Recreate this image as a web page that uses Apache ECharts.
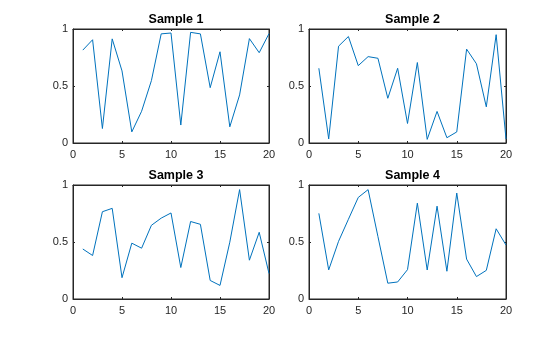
<!DOCTYPE html>
<html>
<head>
<meta charset="utf-8">
<script src="https://cdn.jsdelivr.net/npm/echarts@6/dist/echarts.min.js"></script>
<style>
  html, body { margin: 0; padding: 0; background: #fff; }
  #chart { width: 560px; height: 337px; }
</style>
</head>
<body>
<div id="chart"></div>
<script>
// Four random samples of 20 points each
const xValues = [1,2,3,4,5,6,7,8,9,10,11,12,13,14,15,16,17,18,19,20];
const sample1 = [0.8147,0.9058,0.1270,0.9134,0.6324,0.0975,0.2785,0.5469,0.9575,0.9649,0.1576,0.9706,0.9572,0.4854,0.8003,0.1419,0.4218,0.9157,0.7922,0.9595];
const sample2 = [0.6557,0.0357,0.8491,0.9340,0.6787,0.7577,0.7431,0.3922,0.6555,0.1712,0.7060,0.0318,0.2769,0.0462,0.0971,0.8235,0.6948,0.3171,0.9502,0.0344];
const sample3 = [0.4387,0.3816,0.7655,0.7952,0.1869,0.4898,0.4456,0.6463,0.7094,0.7547,0.2760,0.6797,0.6551,0.1626,0.1190,0.4984,0.9597,0.3404,0.5853,0.2238];
const sample4 = [0.7513,0.2551,0.5060,0.6991,0.8909,0.9593,0.5472,0.1386,0.1493,0.2575,0.8407,0.2543,0.8143,0.2435,0.9293,0.3500,0.1966,0.2511,0.6160,0.4733];
const titles = ['Sample 1', 'Sample 2', 'Sample 3', 'Sample 4'];
const xTicks = [0, 5, 10, 15, 20];
const yTicks = [0, 0.5, 1];

const samples = [sample1, sample2, sample3, sample4];
const axisColor = '#262626';
const lineColor = '#0072BD';
const fontFamily = '"Liberation Sans", Arial, Helvetica, sans-serif';

// Panel boxes (left, top, width, height) in pixels
const panels = [
  { left: 73,  top: 29,  width: 196, height: 114 },
  { left: 309, top: 29,  width: 197, height: 114 },
  { left: 73,  top: 185, width: 196, height: 114 },
  { left: 309, top: 185, width: 197, height: 114 }
];

const grid = [], xAxis = [], yAxis = [], series = [], title = [];

panels.forEach((p, i) => {
  grid.push({
    left: p.left, top: p.top, width: p.width, height: p.height,
    show: true, borderColor: axisColor, borderWidth: 1, backgroundColor: '#fff'
  });
  title.push({
    text: titles[i],
    left: p.left + p.width / 2,
    top: p.top - 21,
    textAlign: 'center',
    textStyle: { fontFamily, fontSize: 12.5, fontWeight: 'bold', color: '#000' }
  });
  const xBase = {
    gridIndex: i, type: 'value',
    min: xTicks[0], max: xTicks[xTicks.length - 1], interval: 5,
    splitLine: { show: false },
    axisLine: { show: true, onZero: false, lineStyle: { color: axisColor, width: 1 } },
    axisTick: { show: true, inside: true, length: 2, lineStyle: { color: axisColor } }
  };
  xAxis.push(Object.assign({}, xBase, {
    position: 'bottom',
    axisLabel: { show: true, color: axisColor, fontFamily, fontSize: 11, margin: 6 }
  }));
  xAxis.push(Object.assign({}, xBase, {
    position: 'top', axisLabel: { show: false }
  }));
  const yBase = {
    gridIndex: i, type: 'value',
    min: yTicks[0], max: yTicks[yTicks.length - 1], interval: 0.5,
    splitLine: { show: false },
    axisLine: { show: true, onZero: false, lineStyle: { color: axisColor, width: 1 } },
    axisTick: { show: true, inside: true, length: 2, lineStyle: { color: axisColor } }
  };
  yAxis.push(Object.assign({}, yBase, {
    position: 'left',
    axisLabel: { show: true, color: axisColor, fontFamily, fontSize: 11, margin: 5 }
  }));
  yAxis.push(Object.assign({}, yBase, {
    position: 'right', axisLabel: { show: false }
  }));
  series.push({
    type: 'line',
    xAxisIndex: i * 2,
    yAxisIndex: i * 2,
    data: xValues.map((x, k) => [x, samples[i][k]]),
    symbol: 'none',
    lineStyle: { color: lineColor, width: 1 },
    animation: false
  });
});

const chart = echarts.init(document.getElementById('chart'), null, { renderer: 'canvas' });
chart.setOption({
  backgroundColor: '#fff',
  animation: false,
  title, grid, xAxis, yAxis, series
});
</script>
</body>
</html>
